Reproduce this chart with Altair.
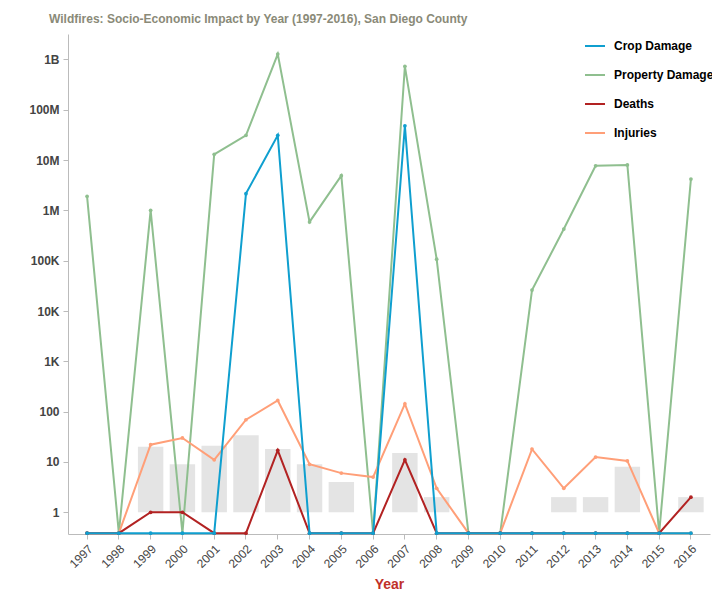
import altair as alt
import pandas as pd

years = list(range(1997, 2017))
crop_damage = [0, 0, 0, 0, 0, 2.15e6, 3.1e7, 0, 0, 0, 4.8e7, 0, 0, 0, 0, 0, 0, 0, 0, 0]
property_damage = [1.9e6, 0, 1.0e6, 0, 1.3e7, 3.1e7, 1.28e9, 5.9e5, 4.9e6, 0, 7.3e8, 1.07e5,
                   0, 0, 2.6e4, 4.25e5, 7.7e6, 8.0e6, 0, 4.2e6]
deaths = [0, 0, 1, 1, 0, 0, 17, 0, 0, 0, 11, 0, 0, 0, 0, 0, 0, 0, 0, 2]
injuries = [0, 0, 22, 30, 11, 69, 167, 9, 6, 5, 143, 3, 0, 0, 18, 3, 12.5, 10.5, 0, 0]

bar_years = [1999, 2000, 2001, 2002, 2003, 2004, 2005, 2007, 2008, 2012, 2013, 2014, 2016]
bar_counts = [20, 9, 21, 34, 18, 9, 4, 15, 2, 2, 2, 8, 2]

YMIN = 0.37
ZERO_AT = 0.385
YMAX = 3.2e9

series = {
    "Crop Damage": crop_damage,
    "Property Damage": property_damage,
    "Deaths": deaths,
    "Injuries": injuries,
}
rows = []
for name, vals in series.items():
    for y, v in zip(years, vals):
        rows.append({"year": str(y), "series": name, "value": v if v > 0 else ZERO_AT})
lines_df = pd.DataFrame(rows)
bars_df = pd.DataFrame({"year": [str(y) for y in bar_years], "count": bar_counts})

names = list(series.keys())
colors = ["#0f9fcf", "#8fbf8f", "#b22222", "#ff9f78"]
year_dom = [str(y) for y in years]

yscale = alt.Scale(type="log", domain=[YMIN, YMAX], clamp=True)
xenc = alt.X("year:N", sort=year_dom,
             scale=alt.Scale(domain=year_dom, paddingInner=0.2, paddingOuter=0.2),
             axis=alt.Axis(title="Year", labelAngle=-45, labelFontSize=12, labelColor="#444",
                           labelFont="Liberation Sans", titleColor="#c0302a", titleFontSize=14,
                           titleFont="Liberation Sans", titleFontWeight="bold", titlePadding=8,
                           domainColor="#bbbbbb", tickColor="#bbbbbb", tickSize=5, grid=False,
                           labelPadding=4))

label_expr = ("datum.value >= 1e9 ? format(datum.value/1e9,'d') + 'B' : "
              "datum.value >= 1e6 ? format(datum.value/1e6,'d') + 'M' : "
              "datum.value >= 1e3 ? format(datum.value/1e3,'d') + 'K' : format(datum.value,'d')")

yaxis = alt.Axis(title=None, values=[1, 10, 100, 1e3, 1e4, 1e5, 1e6, 1e7, 1e8, 1e9],
                 labelExpr=label_expr, labelFontSize=12, labelFontWeight="bold",
                 labelColor="#444", labelFont="Liberation Sans", domainColor="#bbbbbb",
                 tickColor="#bbbbbb", tickSize=5, grid=False, labelPadding=4)

bars = alt.Chart(bars_df).mark_bar(color="#e4e4e4").encode(
    x=xenc,
    y=alt.Y("count:Q", scale=yscale, axis=yaxis),
    y2=alt.datum(1),
)

color_scale = alt.Scale(domain=names, range=colors)
legend = alt.Legend(title=None, orient="none", legendX=516, legendY=1,
                    symbolType="stroke", symbolStrokeWidth=2, symbolSize=400,
                    labelFontSize=12, labelFontWeight="bold", labelColor="#000",
                    labelFont="Liberation Sans", rowPadding=12, labelOffset=8)

draw_order = ["Property Damage", "Injuries", "Deaths", "Crop Damage"]
layers = [bars]
for i, name in enumerate(draw_order):
    base = alt.Chart(lines_df).transform_filter(alt.datum.series == name)
    enc = dict(
        x=alt.X("year:N", sort=year_dom),
        y=alt.Y("value:Q", scale=yscale),
        color=alt.Color("series:N", scale=color_scale, legend=legend if i == 0 else None),
    )
    layers.append(base.mark_line(strokeWidth=2).encode(**enc))
    layers.append(base.mark_point(filled=True, size=14, opacity=1).encode(**enc))

chart = alt.layer(*layers).properties(
    width=642, height=500,
    title=alt.TitleParams("Wildfires: Socio-Economic Impact by Year (1997-2016), San Diego County",
                          anchor="start", frame="group", fontSize=12, fontWeight="bold",
                          color="#8a8a78", font="Liberation Sans", dx=-19, offset=8),
    autosize=alt.AutoSizeParams(type="none"),
    padding={"left": 60, "top": 26, "right": 2, "bottom": 58},
).configure_view(stroke=None)

chart.save("out.html", embed_options={"renderer": "svg", "actions": False})
